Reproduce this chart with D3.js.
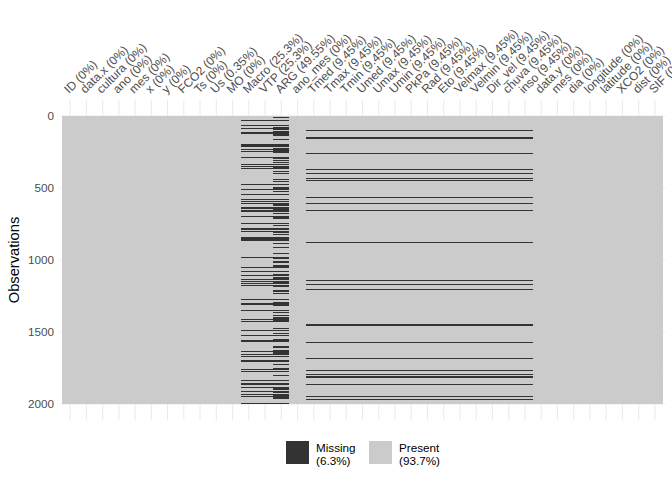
<!DOCTYPE html>
<html><head><meta charset="utf-8">
<script src="https://cdn.jsdelivr.net/npm/d3@7"></script>
<style>body{margin:0;background:#fff}svg{display:block;font-family:"Liberation Sans",Arial,sans-serif}</style>
</head><body><svg id="c" width="672" height="480"></svg>
<script>
// ---- data ----
const columns = ["ID","data.x","cultura","ano","mes","x","y","FCO2","Ts","Us","MO","Macro","VTP","ARG","ano_mes","Tmed","Tmax","Tmin","Umed","Umax","Umin","PkPa","Rad","Eto","Velmax","Velmin","Dir_vel","chuva","inso","data.y","mes","dia","longitude","latitude","XCO2","dist","SIF"];
const columnPct = ["0%","0%","0%","0%","0%","0%","0%","0%","0%","0.35%","0%","25.3%","25.3%","49.55%","0%","9.45%","9.45%","9.45%","9.45%","9.45%","9.45%","9.45%","9.45%","9.45%","9.45%","9.45%","9.45%","9.45%","9.45%","0%","0%","0%","0%","0%","0%","0%","0%"];
const nRows = 2000;
const yTicks = [0, 500, 1000, 1500, 2000];
const legendLabels = [["Missing","(6.3%)"],["Present","(93.7%)"]];
// missing row runs [start, end]
const macroVtpRuns = [[31,38],[61,68],[80,87],[111,125],[194,213],[228,235],[242,249],[288,295],[332,339],[346,353],[358,365],[469,476],[506,513],[545,552],[575,582],[589,596],[605,612],[634,648],[654,661],[663,670],[691,698],[742,749],[780,792],[798,804],[843,866],[978,985],[1048,1055],[1075,1082],[1103,1110],[1131,1138],[1145,1152],[1159,1166],[1173,1180],[1270,1277],[1299,1313],[1348,1355],[1409,1416],[1427,1434],[1483,1490],[1524,1531],[1556,1567],[1635,1642],[1656,1663],[1668,1675],[1692,1706],[1754,1760],[1774,1781],[1833,1843],[1853,1860],[1864,1871],[1885,1892],[1913,1920],[1932,1939],[1946,1953],[1991,2000]];
const argExtraRuns = [[4,10],[75,94],[106,130],[135,142],[163,170],[222,255],[285,296],[307,314],[318,325],[347,366],[385,392],[399,406],[436,443],[448,455],[493,512],[521,530],[614,625],[634,661],[677,684],[694,715],[760,767],[801,810],[816,823],[885,892],[908,915],[950,957],[981,991],[1004,1010],[1015,1022],[1032,1051],[1097,1107],[1116,1134],[1148,1162],[1181,1190],[1208,1222],[1228,1235],[1292,1320],[1358,1365],[1381,1388],[1398,1421],[1471,1478],[1510,1517],[1549,1567],[1596,1603],[1607,1614],[1623,1651],[1692,1711],[1724,1731],[1750,1759],[1797,1804],[1889,1903],[1917,1926],[1935,1949],[1954,1963]];
const weatherRuns = [[96,103],[144,151],[156,163],[255,262],[367,374],[394,401],[429,436],[443,450],[561,568],[601,608],[656,663],[873,880],[1137,1144],[1165,1172],[1200,1207],[1442,1456],[1568,1575],[1679,1686],[1762,1769],[1790,1797],[1807,1817],[1860,1867],[1943,1950],[1964,1971]];
const weatherCols = ["Tmed","Tmax","Tmin","Umed","Umax","Umin","PkPa","Rad","Eto","Velmax","Velmin","Dir_vel","chuva","inso"];

const missingFor = i => {
  const c = columns[i];
  if (c === "Macro" || c === "VTP") return macroVtpRuns;
  if (c === "ARG") return macroVtpRuns.concat(argExtraRuns);
  if (weatherCols.includes(c)) return weatherRuns;
  return [];
};

// ---- chart ----
const svg = d3.select("#c");
const x = d3.scaleBand().domain(d3.range(columns.length)).range([62, 663]).padding(0);
const y = d3.scaleLinear().domain([0, nRows]).range([116, 404]);
const panel = {x0: 60, x1: 665, y0: 100, y1: 420};
const grid = "#EBEBEB", present = "#CBCBCB", missing = "#333333";

// gridlines
const g = svg.append("g");
g.selectAll(".vg").data(d3.range(columns.length)).join("line")
  .attr("x1", d => x(d) + x.bandwidth()/2).attr("x2", d => x(d) + x.bandwidth()/2)
  .attr("y1", panel.y0).attr("y2", panel.y1).attr("stroke", grid).attr("stroke-width", 1.1);
const hTicks = d3.range(0, nRows + 1, 250);
g.selectAll(".hg").data(hTicks).join("line")
  .attr("x1", panel.x0).attr("x2", panel.x1)
  .attr("y1", d => y(d)).attr("y2", d => y(d)).attr("stroke", grid).attr("stroke-width", d => d % 500 ? 0.55 : 1.1);

// tiles
svg.append("rect").attr("x", x(0)).attr("y", y(0)).attr("width", x.range()[1] - x(0)).attr("height", y(nRows) - y(0)).attr("fill", present);
const tiles = svg.append("g").attr("shape-rendering", "crispEdges");
columns.forEach((c, i) => {
  tiles.selectAll(null).data(missingFor(i)).join("rect")
    .attr("x", x(i)).attr("width", x.bandwidth())
    .attr("y", d => y(d[0])).attr("height", d => Math.max(1, y(d[1]) - y(d[0])))
    .attr("fill", missing);
});

// y axis labels
svg.append("g").selectAll("text").data(yTicks).join("text")
  .attr("x", 54).attr("y", d => y(d)).attr("dy", "0.36em").attr("text-anchor", "end")
  .attr("font-size", 11.7).attr("fill", "#4D4D4D").text(d => d);
svg.append("text").attr("transform", "translate(19,260) rotate(-90)").attr("text-anchor", "middle")
  .attr("font-size", 14.7).attr("fill", "#000").text("Observations");

// column labels
svg.append("g").selectAll("text").data(columns).join("text")
  .attr("transform", (d, i) => `translate(${x(i) + x.bandwidth()/2 - 1},${94}) rotate(-45)`)
  .attr("font-size", 12).attr("fill", "#4D4D4D")
  .text((d, i) => `${d} (${columnPct[i]})`);

// legend
const leg = svg.append("g");
const legX = [286, 369], legCol = [missing, present];
legendLabels.forEach((lab, i) => {
  leg.append("rect").attr("x", legX[i]).attr("y", 441).attr("width", 23).attr("height", 23).attr("fill", legCol[i]);
  const t = leg.append("text").attr("x", legX[i] + 30).attr("y", 452).attr("font-size", 11.7).attr("fill", "#000");
  t.append("tspan").attr("x", legX[i] + 30).text(lab[0]);
  t.append("tspan").attr("x", legX[i] + 30).attr("dy", 12.5).text(lab[1]);
});
</script></body></html>
